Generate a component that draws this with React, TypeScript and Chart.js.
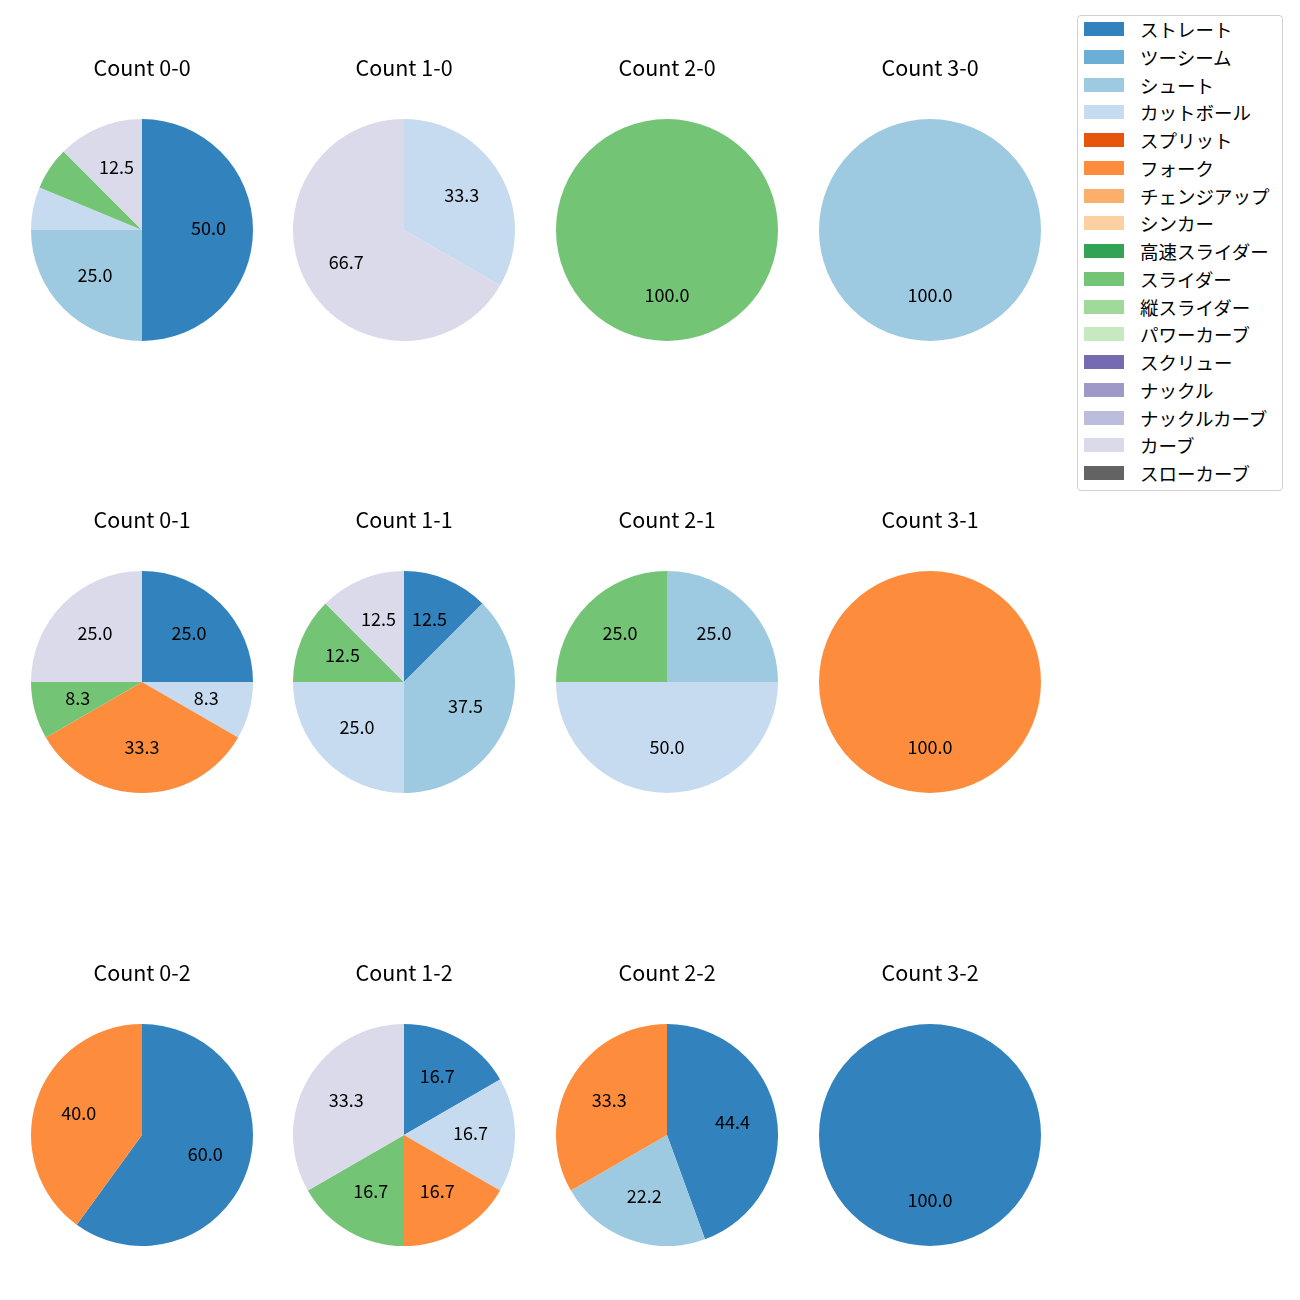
import React, { useEffect, useRef } from "react";
import { Chart, registerables } from "chart.js";

Chart.register(...registerables);

const pitchTypes = [
  "ストレート", "ツーシーム", "シュート", "カットボール", "スプリット", "フォーク",
  "チェンジアップ", "シンカー", "高速スライダー", "スライダー", "縦スライダー",
  "パワーカーブ", "スクリュー", "ナックル", "ナックルカーブ", "カーブ", "スローカーブ",
];
const pitchColors = [
  "#3182bd", "#6baed6", "#9ecae1", "#c6dbef", "#e6550d", "#fd8d3c",
  "#fdae6b", "#fdd0a2", "#31a354", "#74c476", "#a1d99b",
  "#c7e9c0", "#756bb1", "#9e9ac8", "#bcbddc", "#dadaeb", "#636363",
];

// pitch counts per ball-strike count (order follows pitchTypes)
const count00 = [8, 0, 4, 1, 0, 0, 0, 0, 0, 1, 0, 0, 0, 0, 0, 2, 0];
const count10 = [0, 0, 0, 1, 0, 0, 0, 0, 0, 0, 0, 0, 0, 0, 0, 2, 0];
const count20 = [0, 0, 0, 0, 0, 0, 0, 0, 0, 1, 0, 0, 0, 0, 0, 0, 0];
const count30 = [0, 0, 1, 0, 0, 0, 0, 0, 0, 0, 0, 0, 0, 0, 0, 0, 0];
const count01 = [3, 0, 0, 1, 0, 4, 0, 0, 0, 1, 0, 0, 0, 0, 0, 3, 0];
const count11 = [1, 0, 3, 2, 0, 0, 0, 0, 0, 1, 0, 0, 0, 0, 0, 1, 0];
const count21 = [0, 0, 1, 2, 0, 0, 0, 0, 0, 1, 0, 0, 0, 0, 0, 0, 0];
const count31 = [0, 0, 0, 0, 0, 1, 0, 0, 0, 0, 0, 0, 0, 0, 0, 0, 0];
const count02 = [3, 0, 0, 0, 0, 2, 0, 0, 0, 0, 0, 0, 0, 0, 0, 0, 0];
const count12 = [1, 0, 0, 1, 0, 1, 0, 0, 0, 1, 0, 0, 0, 0, 0, 2, 0];
const count22 = [4, 0, 2, 0, 0, 3, 0, 0, 0, 0, 0, 0, 0, 0, 0, 0, 0];
const count32 = [1, 0, 0, 0, 0, 0, 0, 0, 0, 0, 0, 0, 0, 0, 0, 0, 0];

const chartTitles = [
  "Count 0-0", "Count 1-0", "Count 2-0", "Count 3-0",
  "Count 0-1", "Count 1-1", "Count 2-1", "Count 3-1",
  "Count 0-2", "Count 1-2", "Count 2-2", "Count 3-2",
];
const chartData = [
  count00, count10, count20, count30,
  count01, count11, count21, count31,
  count02, count12, count22, count32,
];

const FONT = "'Noto Sans CJK JP', 'Noto Sans', sans-serif";
const COL_X = [141.5, 404, 667, 930];
const ROW_Y = [230, 682, 1134.5];
const R = 111;
const TOP_SPACE = 70;
const TITLE_SIZE = 21.5;
const LABEL_SIZE = 18;
const LEGEND_SIZE = 18.5;

const pctLabels = {
  id: "pctLabels",
  afterDatasetsDraw(chart: any) {
    const ctx = chart.ctx;
    const meta = chart.getDatasetMeta(0);
    const data = chart.data.datasets[0].data as number[];
    const total = data.reduce((a, b) => a + b, 0);
    ctx.save();
    ctx.fillStyle = "#000";
    ctx.font = `${LABEL_SIZE}px ${FONT}`;
    ctx.textAlign = "center";
    ctx.textBaseline = "middle";
    meta.data.forEach((arc: any, i: number) => {
      const pct = (data[i] / total) * 100;
      if (pct < 7) return;
      const p = arc.getProps(["x", "y", "startAngle", "endAngle", "outerRadius"], true);
      const mid = (p.startAngle + p.endAngle) / 2;
      const r = p.outerRadius * 0.6;
      ctx.fillText(pct.toFixed(1), p.x + Math.cos(mid) * r, p.y + Math.sin(mid) * r - 1.5);
    });
    ctx.restore();
  },
};

function PieChart({ title, values, left, top }: { title: string; values: number[]; left: number; top: number }) {
  const ref = useRef<HTMLCanvasElement>(null);
  useEffect(() => {
    if (!ref.current) return;
    const lh = TITLE_SIZE * 1.2;
    const padTop = 19 - lh / 2;
    const padBottom = TOP_SPACE - padTop - lh;
    const chart = new Chart(ref.current, {
      type: "pie",
      data: {
        labels: pitchTypes,
        datasets: [
          {
            data: values,
            backgroundColor: pitchColors,
            borderWidth: 0,
          },
        ],
      },
      options: {
        responsive: false,
        animation: false,
        devicePixelRatio: 1,
        layout: { padding: 0 },
        plugins: {
          legend: { display: false },
          tooltip: { enabled: false },
          title: {
            display: true,
            text: title,
            color: "#000",
            font: { family: FONT, size: TITLE_SIZE, weight: "normal", lineHeight: 1.2 },
            padding: { top: padTop, bottom: padBottom },
          },
        },
      },
      plugins: [pctLabels],
    } as any);
    return () => chart.destroy();
  }, [title, values]);
  return (
    <canvas
      ref={ref}
      width={2 * R}
      height={2 * R + TOP_SPACE}
      style={{ position: "absolute", left, top, width: 2 * R, height: 2 * R + TOP_SPACE }}
    />
  );
}

function Legend() {
  return (
    <div
      style={{
        position: "absolute",
        left: 1077,
        top: 15,
        width: 204,
        height: 474,
        border: "1px solid #d0d0d0",
        borderRadius: 4,
        background: "#fff",
        fontFamily: FONT,
        fontSize: LEGEND_SIZE,
        color: "#000",
      }}
    >
      {pitchTypes.map((name, i) => (
        <div
          key={name}
          style={{
            position: "absolute",
            left: 0,
            top: -1 + i * 27.75,
            height: 28,
            width: 204,
            display: "flex",
            alignItems: "center",
          }}
        >
          <div style={{ marginLeft: 6, width: 40, height: 14, flexShrink: 0, background: pitchColors[i] }} />
          <span style={{ marginLeft: 16, whiteSpace: "nowrap", lineHeight: "28px" }}>{name}</span>
        </div>
      ))}
    </div>
  );
}

export default function App() {
  return (
    <div style={{ position: "absolute", left: 0, top: 0, width: 1300, height: 1300, background: "#fff" }}>
      {chartTitles.map((t, i) => {
        const cx = COL_X[i % 4];
        const cy = ROW_Y[Math.floor(i / 4)];
        return <PieChart key={t} title={t} values={chartData[i]} left={cx - R} top={cy - R - TOP_SPACE} />;
      })}
      <Legend />
    </div>
  );
}
